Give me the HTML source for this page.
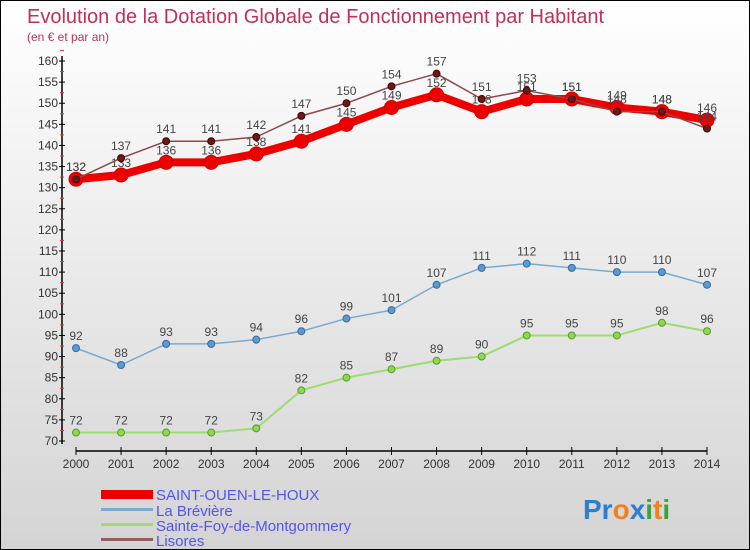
<!DOCTYPE html>
<html><head><meta charset="utf-8"><style>
body{margin:0;}
#c{position:relative;width:750px;height:550px;box-sizing:border-box;border:1px solid #000;background:linear-gradient(#fff,#d4d4d4);font-family:"Liberation Sans",sans-serif;overflow:hidden}
</style></head><body>
<div id="c">
<svg id="s" width="750" height="550" style="position:absolute;left:0;top:0">
<text x="26" y="22" font-size="20" fill="#c0305a">Evolution de la Dotation Globale de Fonctionnement par Habitant</text>
<text x="26" y="40" font-size="12" fill="#c0305a">(en € et par an)</text>
<g id="axes"></g><g id="series"></g>
<g>
<rect x="100" y="489" width="52" height="9" fill="#e00"/>
<text x="155" y="499" font-size="15" fill="#5555ee">SAINT-OUEN-LE-HOUX</text>
<rect x="100" y="507" width="52" height="3" fill="#7aaad0"/>
<text x="155" y="515" font-size="15" fill="#5555ee">La Brévière</text>
<rect x="100" y="522" width="52" height="3" fill="#9ddc70"/>
<text x="155" y="530" font-size="15" fill="#5555ee">Sainte-Foy-de-Montgommery</text>
<rect x="100" y="537" width="52" height="3" fill="#906060"/>
<text x="155" y="545" font-size="15" fill="#5555ee">Lisores</text>
</g>
<text x="582" y="518" font-size="28" font-weight="bold"><tspan fill="#2a7fd0">Pr</tspan><tspan fill="#f08020">o</tspan><tspan fill="#2a7fd0">x</tspan><tspan fill="#40a040">i</tspan><tspan fill="#f08020">t</tspan><tspan fill="#40a040">i</tspan></text>
</svg>
</div>
<script>
const years=[2000,2001,2002,2003,2004,2005,2006,2007,2008,2009,2010,2011,2012,2013,2014];
const saintOuen=[132,133,136,136,138,141,145,149,152,148,151,151,149,148,146];
const breviere=[92,88,93,93,94,96,99,101,107,111,112,111,110,110,107];
const sainteFoy=[72,72,72,72,73,82,85,87,89,90,95,95,95,98,96];
const lisores=[132,137,141,141,142,147,150,154,157,151,153,151,148,148,144];
const yTicks=[70,75,80,85,90,95,100,105,110,115,120,125,130,135,140,145,150,155,160];
const NS="http://www.w3.org/2000/svg";
const X=i=>75+i*(706-75)/14;
const Y=v=>440-(v-70)*(380/90);
function mk(t,a,p){const e=document.createElementNS(NS,t);for(const k in a)e.setAttribute(k,a[k]);p.appendChild(e);return e;}
const ax=document.getElementById('axes');
let e=mk('line',{x1:61,y1:55,x2:61,y2:443,stroke:'#000','stroke-width':1.5},ax);

e=mk('line',{x1:75,y1:450,x2:706,y2:450,stroke:'#000','stroke-width':1.5},ax);

yTicks.forEach(v=>{
  mk('line',{x1:58,x2:64,y1:Y(v),y2:Y(v),stroke:'#000'},ax);
  mk('line',{x1:59,x2:63,y1:Y(v+2.5),y2:Y(v+2.5),stroke:'#e33'},ax);
  const t=mk('text',{x:57,y:Y(v)+4,'font-size':12,'text-anchor':'end',fill:'#333'},ax);t.textContent=v;
  
});
years.forEach((y,i)=>{
  mk('line',{x1:X(i),x2:X(i),y1:446,y2:454,stroke:'#000'},ax);
  const t=mk('text',{x:X(i),y:467,'font-size':12,'text-anchor':'middle',fill:'#333'},ax);t.textContent=y;
  
});
const sg=document.getElementById('series');
function series(data,name,color,w,r,fill,stroke){
  const g=mk('g',{},sg);
  
  const p=mk('polyline',{points:data.map((v,i)=>X(i)+','+Y(v)).join(' '),fill:'none',stroke:color,'stroke-width':w,'stroke-linejoin':'round'},g);
  
  data.forEach((v,i)=>{
    const c=mk('circle',{cx:X(i),cy:Y(v),r:r,fill:fill,stroke:stroke,'stroke-width':1},g);
    
    const t=mk('text',{x:X(i),y:Y(v)-8,'font-size':12,'text-anchor':'middle',fill:'#444'},g);t.textContent=v;
    
  });
}
series(sainteFoy,'sainte-foy','#9ddc70',2,3.5,'#8cd850','#5a9a30');
series(breviere,'breviere','#7aaad0',1.5,3.5,'#5a9ad0','#3a6a9a');
series(saintOuen,'saint-ouen','#e00',8,7,'#e00','#c00');
series(lisores,'lisores','#8a4a4a',1.5,3.5,'#6a1a1a','#400');
</script>
</body></html>
